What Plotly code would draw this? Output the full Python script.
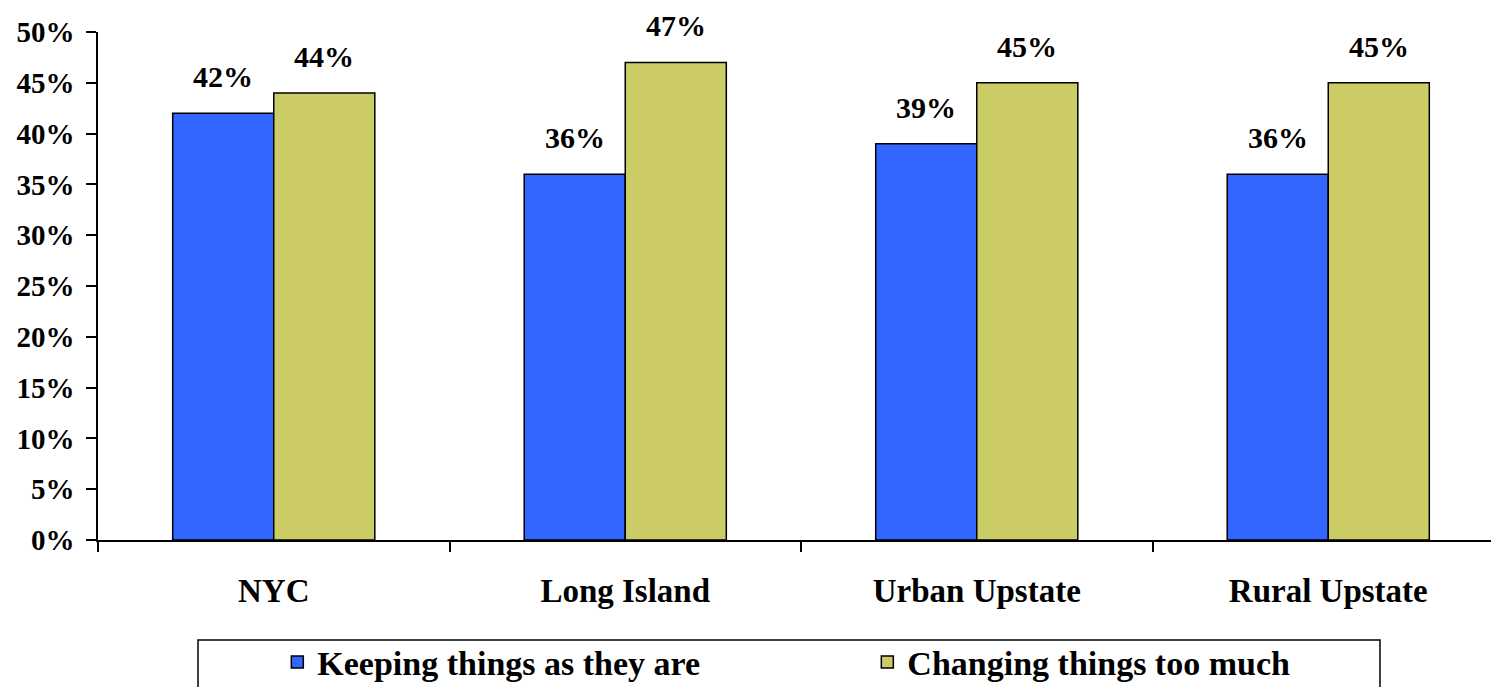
import plotly.graph_objects as go

categories = ["NYC", "Long Island", "Urban Upstate", "Rural Upstate"]
keeping = [42, 36, 39, 36]
changing = [44, 47, 45, 45]
series_names = ["Keeping things as they are", "Changing things too much"]
colors = ["#3366FF", "#CCCC66"]
y_ticks = list(range(0, 51, 5))
y_tick_labels = [f"{v}%" for v in y_ticks]

FONT = "Liberation Serif"
BARGAP = 0.425

fig = go.Figure()
for name, vals, col in zip(series_names, [keeping, changing], colors):
    fig.add_trace(go.Bar(
        x=categories, y=vals, name=name,
        marker=dict(color=col, line=dict(color="black", width=1.5)),
    ))

# value labels above bars
half = (1 - BARGAP) / 4
for s, vals in enumerate([keeping, changing]):
    off = -half if s == 0 else half
    for i, v in enumerate(vals):
        fig.add_annotation(
            x=i + off, y=v, xref="x", yref="y", text=f"{v}%",
            showarrow=False, yanchor="bottom", yshift=18,
            font=dict(family=FONT, size=30, color="black", weight="bold"),
        )

# legend frame
fig.add_shape(type="rect", xref="paper", yref="paper",
              x0=0.0718, x1=0.9203, y0=-0.197, y1=-0.32,
              line=dict(color="black", width=1.5), fillcolor="rgba(0,0,0,0)")

fig.update_layout(
    width=1491, height=687,
    margin=dict(l=98, r=0, t=32, b=147, autoexpand=False),
    paper_bgcolor="white", plot_bgcolor="white",
    barmode="group", bargap=BARGAP, bargroupgap=0,
    showlegend=True,
    legend=dict(orientation="h", xref="container", yref="container",
                x=0.186, y=0.078, xanchor="left", yanchor="top",
                entrywidth=545, entrywidthmode="pixels",
                font=dict(family=FONT, size=34, color="black", weight="bold"),
                bgcolor="rgba(0,0,0,0)", borderwidth=0, traceorder="normal"),
    font=dict(family=FONT, color="black"),
)
fig.update_xaxes(
    range=[-0.5, 3.463], showline=True, linecolor="black", linewidth=1.5,
    ticks="outside", tickson="boundaries", ticklen=10, tickcolor="black", tickwidth=1.5,
    tickfont=dict(family=FONT, size=33, color="black", weight="bold"),
    ticklabelstandoff=21, showgrid=False,
)
fig.update_yaxes(
    range=[0, 50], tickvals=y_ticks, ticktext=y_tick_labels,
    showline=True, linecolor="black", linewidth=1.5,
    ticks="outside", ticklen=10, tickcolor="black", tickwidth=1.5,
    tickfont=dict(family=FONT, size=29, color="black", weight="bold"),
    ticklabelstandoff=6, showgrid=False, zeroline=False,
)
fig.write_html("out.html", config={"displayModeBar": False},
               post_script="document.body.style.margin='0px';document.body.style.overflow='hidden';")
